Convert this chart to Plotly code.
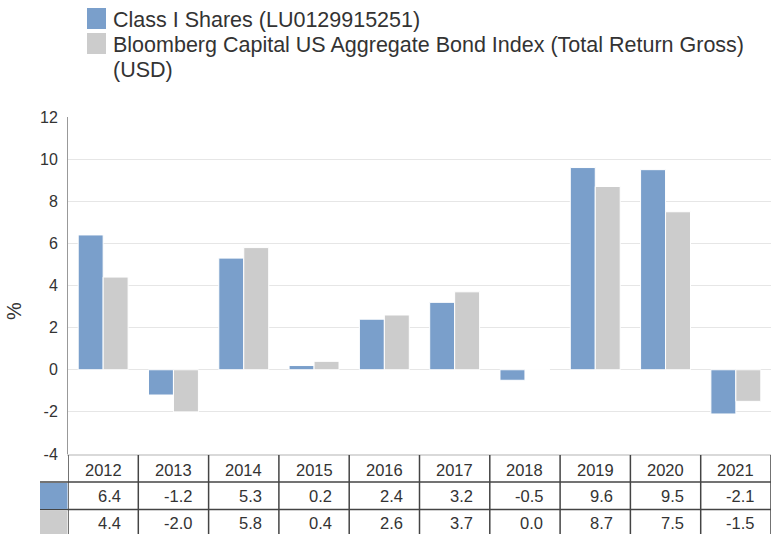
import plotly.graph_objects as go

years = ["2012", "2013", "2014", "2015", "2016", "2017", "2018", "2019", "2020", "2021"]
class_i = [6.4, -1.2, 5.3, 0.2, 2.4, 3.2, -0.5, 9.6, 9.5, -2.1]
bench = [4.4, -2.0, 5.8, 0.4, 2.6, 3.7, 0.0, 8.7, 7.5, -1.5]
series_names = ["Class I Shares (LU0129915251)",
                "Bloomberg Capital US Aggregate Bond Index (Total Return Gross)",
                "(USD)"]
y_ticks = [-4, -2, 0, 2, 4, 6, 8, 10, 12]
y_ticktext = ["-4", "-2", "0", "2", "4", "6", "8", "10", "12"]

BLUE = "#7a9fcb"
GRAY = "#cccccc"
TXT = "#333333"
LINE = "#444444"
FONT = "Liberation Sans, Arial, sans-serif"

W, H = 771, 534
L, R, T, B = 68, 0, 117, 80
PW = W - L - R
PH = H - T - B


def px(X):
    return (X - L) / PW


def py(Y):
    return (H - B - Y) / PH


fig = go.Figure()
fig.add_trace(go.Bar(x=years, y=class_i, name=series_names[0],
                     marker=dict(color=BLUE, line=dict(color="white", width=1))))
fig.add_trace(go.Bar(x=years, y=bench, name=series_names[1],
                     marker=dict(color=GRAY, line=dict(color="white", width=1))))

shapes = []
ann = []

# legend
shapes.append(dict(type="rect", xref="paper", yref="paper", x0=px(87), x1=px(106),
                   y0=py(8), y1=py(29), fillcolor=BLUE, line=dict(width=0)))
shapes.append(dict(type="rect", xref="paper", yref="paper", x0=px(87), x1=px(106),
                   y0=py(33), y1=py(54), fillcolor=GRAY, line=dict(width=0)))
for txt, yc in [(series_names[0], 20), (series_names[1], 45), (series_names[2], 70)]:
    ann.append(dict(xref="paper", yref="paper", x=px(111), y=py(yc), text=txt,
                    showarrow=False, xanchor="left", yanchor="middle",
                    font=dict(family=FONT, size=21.5, color=TXT)))

# y title
ann.append(dict(xref="paper", yref="paper", x=px(14), y=py(311), text="%",
                showarrow=False, textangle=-90, xanchor="center", yanchor="middle",
                font=dict(family=FONT, size=20, color=TXT)))

# table grid
n = len(years)
for i in range(n + 1):
    shapes.append(dict(type="line", xref="x", yref="paper", x0=i - 0.5, x1=i - 0.5,
                       y0=py(455), y1=py(540), line=dict(color=LINE, width=1.5)))
for yy in [482, 509.5]:
    shapes.append(dict(type="line", xref="paper", yref="paper", x0=px(40), x1=1.01,
                       y0=py(yy), y1=py(yy), line=dict(color=LINE, width=1.5)))
shapes.append(dict(type="rect", xref="paper", yref="paper", x0=px(40), x1=px(67.5),
                   y0=py(483), y1=py(509), fillcolor=BLUE, line=dict(width=0)))
shapes.append(dict(type="rect", xref="paper", yref="paper", x0=px(40), x1=px(67.5),
                   y0=py(510.5), y1=py(540), fillcolor=GRAY, line=dict(width=0)))

for i, yr in enumerate(years):
    ann.append(dict(xref="x", yref="paper", x=i, y=py(469.5), text=yr, showarrow=False,
                    xanchor="center", yanchor="middle",
                    font=dict(family=FONT, size=16.5, color=TXT)))
    for vals, yc in [(class_i, 496), (bench, 522.5)]:
        ann.append(dict(xref="x", yref="paper", x=i + 0.5, xshift=-15, y=py(yc),
                        text=f"{vals[i]:.1f}", showarrow=False,
                        xanchor="right", yanchor="middle",
                        font=dict(family=FONT, size=16.5, color=TXT)))

fig.update_layout(
    width=W, height=H,
    margin=dict(l=L, r=R, t=T, b=B, pad=0),
    paper_bgcolor="white", plot_bgcolor="white",
    barmode="group", bargap=0.29, bargroupgap=0,
    showlegend=False,
    font=dict(family=FONT, color=TXT),
    shapes=shapes, annotations=ann,
    hovermode=False,
)
fig.update_xaxes(type="category", showticklabels=False, showgrid=False,
                 range=[-0.5, n - 0.5], showline=True, linecolor="#d9d9d9",
                 linewidth=2, ticks="", zeroline=False)
fig.update_yaxes(range=[-4, 12], tickvals=y_ticks, ticktext=y_ticktext,
                 showgrid=True, gridcolor="#e6e6e6",
                 gridwidth=1, zeroline=False, showline=True, linecolor="#999999",
                 linewidth=1, ticks="outside", ticklen=6, tickcolor="white",
                 tickfont=dict(family=FONT, size=16, color=TXT))

fig.write_html("out.html", config={"displayModeBar": False},
               post_script="document.body.style.margin='0';document.body.style.overflow='hidden';")
